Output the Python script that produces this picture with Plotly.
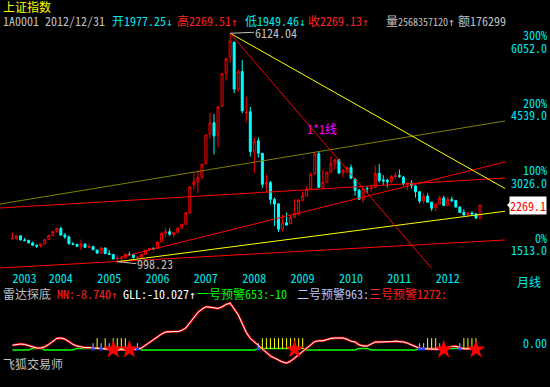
import plotly.graph_objects as go

W, H = 550, 387
FONT = "Noto Sans Mono CJK SC, Noto Sans CJK SC, DejaVu Sans Mono, monospace"

# ---------------- data: 上证指数 monthly bars, 2003-04 .. 2012-12 ----------------
opens = [
    1511, 1520, 1578, 1486, 1476, 1420, 1365, 1348, 1398,
    1497, 1590, 1675, 1742, 1594, 1556, 1399, 1387, 1341, 1395, 1320, 1341,
    1261, 1191, 1306, 1182, 1159, 1061, 1080, 1083, 1163, 1155, 1093, 1099,
    1163, 1260, 1299, 1299, 1442, 1641, 1672, 1612, 1659, 1753, 1838, 2100,
    2728, 2786, 2894, 3197, 3867, 4117, 3834, 4484, 5229, 5584, 5926, 4868,
    5265, 4334, 4362, 3479, 3711, 3430, 2740, 2775, 2395, 2296, 1731, 1873,
    1849, 1994, 2083, 2377, 2479, 2640, 2966, 3422, 2668, 2780, 3000, 3190,
    3289, 2983, 3054, 3113, 2857, 2597, 2396, 2641, 2643, 2662, 2981, 2832,
    2825, 2799, 2906, 2932, 2895, 2736, 2765, 2699, 2568, 2364, 2471, 2333,
    2212, 2286, 2428, 2255, 2396, 2371, 2223, 2104, 2049, 2092, 2072, 1977.25,
]
highs = [
    1649, 1580, 1579, 1530, 1490, 1450, 1385, 1400, 1500,
    1603, 1686, 1760, 1783, 1641, 1582, 1436, 1399, 1496, 1405, 1402, 1356,
    1269, 1328, 1318, 1259, 1161, 1147, 1085, 1197, 1223, 1157, 1110, 1181,
    1263, 1307, 1305, 1445, 1650, 1757, 1745, 1660, 1766, 1852, 2100, 2698,
    2994, 3049, 3197, 3848, 4335, 4312, 4478, 5230, 5558, 6124.04, 5930, 5303,
    5522, 4695, 4473, 3786, 3786, 3438, 2952, 2810, 2434, 2300, 2051, 2100,
    2045, 2402, 2399, 2579, 2688, 2995, 3454, 3478, 3068, 3024, 3361, 3314,
    3306, 3082, 3130, 3181, 2867, 2638, 2645, 2688, 2692, 3159, 3186, 2940,
    2861, 2943, 3000, 3067, 2922, 2780, 2826, 2716, 2572, 2536, 2536, 2343,
    2296, 2478, 2478, 2454, 2461, 2379, 2240, 2178, 2125, 2132, 2079, 2269.51,
]
lows = [
    1505, 1491, 1478, 1456, 1411, 1357, 1307, 1316, 1385,
    1492, 1576, 1645, 1583, 1511, 1387, 1367, 1328, 1259, 1304, 1300, 1259,
    1177, 1184, 1166, 1146, 1050, 998.23, 1004, 1074, 1132, 1067, 1074, 1094,
    1163, 1247, 1256, 1297, 1439, 1541, 1581, 1541, 1634, 1723, 1833, 2068,
    2604, 2541, 2841, 3184, 3763, 3404, 3563, 4481, 5062, 5461, 4778, 4812,
    4330, 4123, 3357, 2990, 3333, 2653, 2566, 2284, 1802, 1664, 1678, 1814,
    1844, 1991, 2037, 2355, 2459, 2632, 2947, 2660, 2639, 2772, 2998, 3069,
    2963, 2890, 2986, 2862, 2481, 2382, 2319, 2545, 2573, 2662, 2774, 2721,
    2661, 2752, 2861, 2876, 2706, 2610, 2637, 2437, 2307, 2307, 2319, 2134,
    2132, 2281, 2242, 2242, 2332, 2210, 2096, 2030, 2001, 2054, 1959, 1949.46,
]
closes = [
    1521, 1576, 1486, 1476, 1421, 1367, 1348, 1397, 1497,
    1590, 1675, 1741, 1595, 1555, 1399, 1386, 1342, 1396, 1320, 1340, 1266,
    1191, 1306, 1181, 1159, 1060, 1080, 1083, 1162, 1155, 1092, 1099, 1161,
    1258, 1299, 1298, 1440, 1641, 1672, 1612, 1658, 1752, 1837, 2099, 2675,
    2786, 2881, 3183, 3841, 4109, 3820, 4471, 5218, 5552, 5954, 4871, 5261,
    4383, 4348, 3472, 3693, 3433, 2736, 2775, 2397, 2293, 1728, 1871, 1820,
    1990, 2082, 2373, 2477, 2632, 2959, 3412, 2667, 2779, 2995, 3195, 3277,
    2989, 3051, 3109, 2870, 2592, 2398, 2637, 2638, 2655, 2978, 2820, 2808,
    2790, 2905, 2928, 2911, 2743, 2762, 2701, 2567, 2359, 2468, 2333, 2199,
    2292, 2428, 2262, 2396, 2372, 2225, 2103, 2047, 2086, 2068, 1980, 2269.13,
]
n = len(closes)
bars = list(range(n))
first_year, first_month = 2003, 4
months = [(first_year + (first_month - 1 + k) // 12, (first_month - 1 + k) % 12 + 1) for k in bars]
year_ticks = [k for k in bars if months[k][1] == 1 or k == 0]
year_labels = [str(months[k][0]) for k in year_ticks]

# 雷达探底 indicator (sub panel)
radar_line = [
    -4, -3, -2.5, -3, -4.5, -6.5, -7.5, -7.5, -6, -3,
    1, 4.5, 5, 3.5, 0.5, -3, -5, -6, -7, -7,
    -7.5, -8, -8.5, -8.5, -9, -10, -10, -9.5, -10, -10.5,
    -9.5, -9, -7.5, -4, 0, 3.5, 7, 10, 12.5, 13,
    13, 13, 14.5, 17.5, 24, 31, 37, 41, 44, 43.5,
    42.5, 42, 44, 47, 48.5, 42, 34, 23, 12, 4.5,
    0, -4, -9, -14, -17.5, -20, -22.5, -25, -26.3, -24,
    -20, -16, -11, -7, -3, 0.5, 1.5, 1.5, 3, 4.5,
    5, 5, 5, 3.5, 1, 0, -3.5, -5, -5, -2.5,
    0, 0, 0, 0, 0.5, 1, 0.5, 0, -1.5, -4,
    -6.5, -8, -8.5, -8.5, -9, -9, -9.5, -8, -6.5, -5.5,
    -5.5, -7, -8.5, -8.5, -8.5, -9, -8.74,
]
warn_line = (
    [-10] * 5 + [-8] * 3 + [-10] * 8 + [-8] * 16 + [-10] * 29 + [-8] * 12
    + [-10] * 13 + [-8] * 3 + [-10] * 12 + [-8] * 16
)
yellow_bars = [21, 23, 25, 26, 27, 28, 62, 63, 64, 65, 66, 67, 68, 69, 70, 71, 72,
               103, 104, 105, 112, 113, 114, 115]
blue_bars = [20, 22, 24, 31, 61, 101, 102, 106, 107, 111]
star_bars = [25, 29, 70, 107, 115]

# drawn trend lines: (bar0, price0, bar1, price1, colour)
peak_i = highs.index(max(highs))
low_i = lows.index(min(lows))
XMIN, XMAX = -3.1, 122.2
trend_lines = [
    (XMIN, 2293, XMAX, 4156, "#808000"),
    (XMIN, 2203, XMAX, 2877, "#ff0000"),
    (XMIN, 857, XMAX, 1485, "#ff0000"),
    (26.8, 1100, XMAX, 3235, "#ff0000"),
    (low_i, lows[low_i], XMAX, 2130, "#ffff00"),
    (peak_i, highs[peak_i], XMAX, 2640, "#ffff00"),
    (peak_i, highs[peak_i], 104, 850, "#ff0000"),
]
base_level = 1513
pct_levels = [0, 100, 200, 300]

# ---------------- figure ----------------
def px(x):
    return x / W

def py(y):
    return 1 - y / H

PLOT_R = 505
fig = go.Figure()

for (x0, p0, x1, p1, col) in trend_lines:
    fig.add_trace(go.Scatter(x=[x0, x1], y=[p0, p1], mode="lines",
                             line=dict(color=col, width=1), hoverinfo="skip",
                             xaxis="x", yaxis="y"))

fig.add_trace(go.Candlestick(
    x=bars, open=opens, high=highs, low=lows, close=closes,
    increasing=dict(line=dict(color="#ff0000", width=1), fillcolor="#000000"),
    decreasing=dict(line=dict(color="#00ffff", width=1), fillcolor="#00ffff"),
    whiskerwidth=0, xaxis="x", yaxis="y"))

# sub panel
fig.add_trace(go.Scatter(x=bars, y=warn_line, mode="lines",
                         line=dict(color="#00ff00", width=1.5), xaxis="x2", yaxis="y2"))
fig.add_trace(go.Scatter(x=bars, y=radar_line, mode="lines",
                         line=dict(color="#ff0000", width=2.4), xaxis="x2", yaxis="y2"))
fig.add_trace(go.Scatter(x=bars, y=radar_line, mode="lines",
                         line=dict(color="#ffffff", width=1), xaxis="x2", yaxis="y2"))

def stems(idx, lo, hi):
    xs, ys = [], []
    for k in idx:
        xs += [k, k, None]
        ys += [lo, hi, None]
    return xs, ys

bx, by = stems(blue_bars, -8.7, -1.5)
fig.add_trace(go.Scatter(x=bx, y=by, mode="lines", line=dict(color="#a0c8ff", width=1),
                         xaxis="x2", yaxis="y2"))
fig.add_trace(go.Scatter(x=blue_bars, y=[-8.7] * len(blue_bars), mode="markers",
                         marker=dict(color="#2040ff", size=3, symbol="square"),
                         xaxis="x2", yaxis="y2"))
yx, yy = stems(yellow_bars, -8.7, 4.8)
fig.add_trace(go.Scatter(x=yx, y=yy, mode="lines", line=dict(color="#ffff00", width=1),
                         xaxis="x2", yaxis="y2"))
fig.add_trace(go.Scatter(x=star_bars, y=[-9.5] * len(star_bars), mode="markers",
                         marker=dict(color="#ff0000", size=14, symbol="star", line=dict(width=0)),
                         xaxis="x2", yaxis="y2"))

# ---------------- texts ----------------
anns = []
UP = '<span style="font-family:DejaVu Sans Mono;font-size:11px">↑</span>'
DN = '<span style="font-family:DejaVu Sans Mono;font-size:11px">↓</span>'

def narrow(s):
    return f'<span style="font-size:10px">{s}</span>'

def txt(t, x, y, color, anchor="left", size=12):
    anns.append(dict(text=t, x=px(x), y=py(y), xref="paper", yref="paper",
                     xanchor=anchor, yanchor="middle", showarrow=False,
                     font=dict(color=color, size=size, family=FONT), borderpad=0))

GRAY, CYAN, RED = "#c0c0c0", "#00e8e8", "#ff2020"
txt("上证指数", 2, 7, "#ffff00")
txt("1A0001 2012/12/31", 2, 20, GRAY)
txt("开1977.25" + DN, 111, 20, CYAN)
txt("高2269.51" + UP, 176, 20, RED)
txt("低1949.46" + DN, 244, 20, CYAN)
txt("收2269.13" + UP, 307, 20, RED)
txt("量" + narrow("2568357120") + UP, 385, 20, GRAY)
txt("额176299", 457, 20, GRAY)

txt("雷达探底", 2, 293, GRAY)
txt("MN:-8.740" + UP, 56, 293, RED)
txt("GLL:-10.027" + UP, 122, 293, "#ffffff")
txt("一号预警653:-10", 196, 293, "#00ff00")
txt("二号预警963:", 296, 293, "#b8c8ff")
txt("三号预警1272:", 368, 293, RED)
txt("飞狐交易师", 2, 363, GRAY)
txt("0.00", 548, 342, CYAN, anchor="right")
txt("月线", 516, 281, CYAN)
txt("1*1线", 306, 129, "#ff00ff")

for p in pct_levels:
    lvl = base_level * (1 + p / 100)
    anns.append(dict(text=f"{p}%", x=px(548), y=lvl, xref="paper", yref="y",
                     xanchor="right", yanchor="middle", yshift=1.5, showarrow=False,
                     font=dict(color=CYAN, size=12, family=FONT), borderpad=0))
    anns.append(dict(text=f"{lvl:.1f}", x=px(548), y=lvl, xref="paper", yref="y",
                     xanchor="right", yanchor="middle", yshift=-11, showarrow=False,
                     font=dict(color=CYAN, size=12, family=FONT), borderpad=0))

# last price tag
last = closes[-1]
anns.append(dict(text=f"{last:.1f}", x=px(547), y=last, xref="paper", yref="y",
                 xanchor="right", yanchor="middle", showarrow=False, bgcolor="#ffffff",
                 font=dict(color="#ff0000", size=12, family=FONT), borderpad=0))

# extreme labels
anns.append(dict(text=f"{highs[peak_i]:.2f}", x=peak_i, y=highs[peak_i], xref="x", yref="y",
                 showarrow=True, arrowhead=0, arrowwidth=1, arrowcolor=GRAY,
                 ax=24, ay=-1, xanchor="left", yanchor="middle",
                 font=dict(color=GRAY, size=12, family=FONT), borderpad=0))
anns.append(dict(text=f"{lows[low_i]:.2f}", x=low_i, y=lows[low_i], xref="x", yref="y",
                 showarrow=True, arrowhead=0, arrowwidth=1, arrowcolor=GRAY,
                 ax=19, ay=2, xanchor="left", yanchor="middle",
                 font=dict(color=GRAY, size=12, family=FONT), borderpad=0))

shapes = [dict(type="path", xref="paper", yref="y",
               path=f"M {px(507)},{last} L {px(511)},{last + 95} L {px(511)},{last - 95} Z",
               fillcolor="#ffffff", line=dict(width=0))]

fig.update_layout(
    width=W, height=H, margin=dict(l=0, r=0, t=0, b=0),
    paper_bgcolor="#000000", plot_bgcolor="#000000",
    showlegend=False, annotations=anns, shapes=shapes,
    font=dict(family=FONT, size=12, color=GRAY),
    xaxis=dict(domain=[0, px(PLOT_R)], range=[XMIN, XMAX], anchor="y",
               tickvals=year_ticks, ticktext=year_labels, ticks="",
               ticklabelposition="outside right",
               tickfont=dict(color=CYAN, size=12, family=FONT),
               showgrid=False, zeroline=False, showline=False,
               rangeslider=dict(visible=False)),
    yaxis=dict(domain=[py(270), py(20)], range=[812, 6422], visible=False,
               showgrid=False, zeroline=False),
    xaxis2=dict(domain=[0, px(PLOT_R)], range=[XMIN, XMAX], anchor="y2", visible=False,
                showgrid=False, zeroline=False),
    yaxis2=dict(domain=[py(380), py(300)], range=[-47.5, 52.5], visible=False,
                showgrid=False, zeroline=False),
)

fig.write_html(
    "out.html",
    config={"displayModeBar": False},
    post_script="document.body.style.margin='0';document.body.style.overflow='hidden';"
                "document.body.style.background='#000';",
)
